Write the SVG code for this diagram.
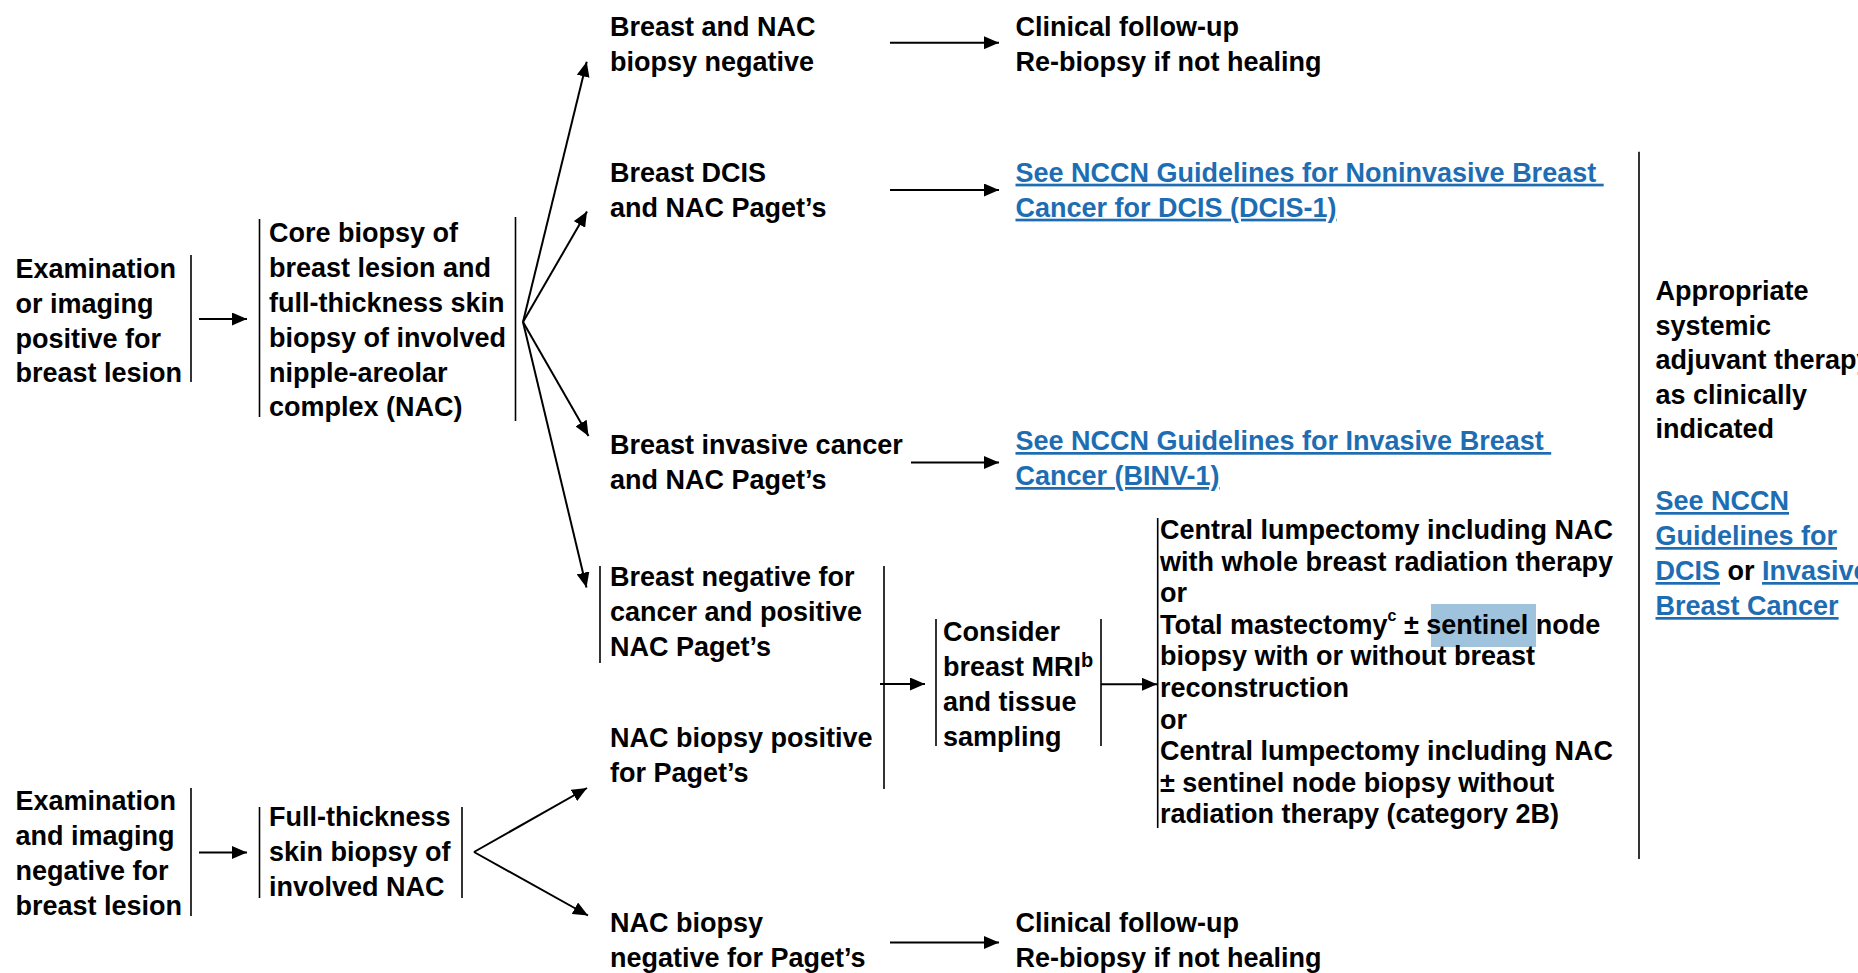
<svg xmlns="http://www.w3.org/2000/svg" width="1858" height="973" viewBox="0 0 1858 973">
<style>
.t{font-family:"Liberation Sans",Arial,Helvetica,sans-serif;font-weight:bold;font-size:27px;fill:#000}
.lk{fill:#1e6db3;text-decoration:underline}
.v{stroke:#000;stroke-width:1.6;fill:none}
.c{stroke:#000;stroke-width:2;fill:none;marker-end:url(#ah)}
.hl{fill:#9fc3dc}
</style>
<defs>
<marker id="ah" markerUnits="userSpaceOnUse" markerWidth="16" markerHeight="13" refX="15" refY="6.5" orient="auto">
<path d="M0,0 L15,6.5 L0,13 z" fill="#000"/>
</marker>
</defs>
<rect width="1858" height="973" fill="#fff"/>

<g id="connectors">
<line class="c" x1="199" y1="319" x2="247" y2="319"/>
<line class="c" x1="523" y1="322" x2="586.7" y2="61.7"/>
<line class="c" x1="523" y1="322" x2="587" y2="211.5"/>
<line class="c" x1="523" y1="322" x2="588.5" y2="436"/>
<line class="c" x1="523" y1="322" x2="586.5" y2="587.5"/>
<line class="c" x1="890" y1="42.7" x2="999" y2="42.7"/>
<line class="c" x1="890" y1="190" x2="999" y2="190"/>
<line class="c" x1="911" y1="462.5" x2="999" y2="462.5"/>
<line class="c" x1="880" y1="684" x2="925" y2="684"/>
<line class="c" x1="1101" y1="684.3" x2="1157" y2="684.3"/>
<line class="c" x1="199" y1="852.5" x2="247" y2="852.5"/>
<line class="c" x1="474" y1="852" x2="587" y2="788"/>
<line class="c" x1="474" y1="852" x2="588" y2="915.5"/>
<line class="c" x1="890" y1="942.5" x2="999" y2="942.5"/>
</g>

<g id="n_a1">
<line class="v" x1="191" y1="255" x2="191" y2="382"/>
<text class="t"><tspan x="15.5" y="278">Examination</tspan><tspan x="15.5" y="313">or imaging</tspan><tspan x="15.5" y="348">positive for</tspan><tspan x="15.5" y="382">breast lesion</tspan></text>
</g>

<g id="n_b1">
<line class="v" x1="259.5" y1="219" x2="259.5" y2="417"/>
<line class="v" x1="515.5" y1="217" x2="515.5" y2="421"/>
<text class="t"><tspan x="269" y="242">Core biopsy of</tspan><tspan x="269" y="277">breast lesion and</tspan><tspan x="269" y="311.5">full-thickness skin</tspan><tspan x="269" y="346.5">biopsy of involved</tspan><tspan x="269" y="381.5">nipple-areolar</tspan><tspan x="269" y="415.5">complex (NAC)</tspan></text>
</g>

<g id="n_c1">
<text class="t"><tspan x="610" y="36">Breast and NAC</tspan><tspan x="610" y="71">biopsy negative</tspan></text>
</g>
<g id="n_d1">
<text class="t"><tspan x="1015.5" y="36">Clinical follow-up</tspan><tspan x="1015.5" y="71">Re-biopsy if not healing</tspan></text>
</g>

<g id="n_c2">
<text class="t"><tspan x="610" y="181.7">Breast DCIS</tspan><tspan x="610" y="216.7">and NAC Paget’s</tspan></text>
</g>
<g id="n_d2">
<text class="t lk"><tspan x="1015.5" y="181.7">See NCCN Guidelines for Noninvasive Breast&#160;</tspan><tspan x="1015.5" y="216.7">Cancer for DCIS (DCIS-1)</tspan></text>
</g>

<g id="n_c3">
<text class="t"><tspan x="610" y="454">Breast invasive cancer</tspan><tspan x="610" y="489">and NAC Paget’s</tspan></text>
</g>
<g id="n_d3">
<text class="t lk"><tspan x="1015.5" y="450">See NCCN Guidelines for Invasive Breast&#160;</tspan><tspan x="1015.5" y="485">Cancer (BINV-1)</tspan></text>
</g>

<g id="n_c4">
<line class="v" x1="600" y1="566" x2="600" y2="663"/>
<text class="t"><tspan x="610" y="586">Breast negative for</tspan><tspan x="610" y="621">cancer and positive</tspan><tspan x="610" y="656">NAC Paget’s</tspan></text>
</g>
<g id="n_c5">
<text class="t"><tspan x="610" y="746.5">NAC biopsy positive</tspan><tspan x="610" y="781.5">for Paget’s</tspan></text>
</g>
<g id="bracket_c4_c5">
<line class="v" x1="884" y1="566" x2="884" y2="789"/>
</g>

<g id="n_e">
<line class="v" x1="936" y1="619" x2="936" y2="746"/>
<line class="v" x1="1101" y1="619" x2="1101" y2="746"/>
<text class="t"><tspan x="943" y="641">Consider</tspan><tspan x="943" y="676">breast MRI<tspan font-size="20" dy="-9">b</tspan></tspan><tspan x="943" y="711">and tissue</tspan><tspan x="943" y="746">sampling</tspan></text>
</g>

<g id="n_f">
<line class="v" x1="1157.7" y1="518" x2="1157.7" y2="828"/>
<rect class="hl" x="1431" y="604" width="105" height="43"/>
<text class="t"><tspan x="1160" y="539">Central lumpectomy including NAC</tspan><tspan x="1160" y="570.6">with whole breast radiation therapy</tspan><tspan x="1160" y="602.2">or</tspan><tspan x="1160" y="633.8">Total mastectomy<tspan font-size="16" dy="-13">c</tspan><tspan dy="13"> ± sentinel node</tspan></tspan><tspan x="1160" y="665.4">biopsy with or without breast</tspan><tspan x="1160" y="697">reconstruction</tspan><tspan x="1160" y="728.6">or</tspan><tspan x="1160" y="760.2">Central lumpectomy including NAC</tspan><tspan x="1160" y="791.8">± sentinel node biopsy without</tspan><tspan x="1160" y="823.4">radiation therapy (category 2B)</tspan></text>
</g>

<g id="n_g">
<line class="v" x1="1639" y1="151.7" x2="1639" y2="859"/>
<text class="t"><tspan x="1655.5" y="300">Appropriate</tspan><tspan x="1655.5" y="334.6">systemic</tspan><tspan x="1655.5" y="369.2">adjuvant therapy</tspan><tspan x="1655.5" y="403.8">as clinically</tspan><tspan x="1655.5" y="438.4">indicated</tspan><tspan x="1655.5" y="510" class="lk">See NCCN</tspan><tspan x="1655.5" y="545" class="lk">Guidelines for</tspan><tspan x="1655.5" y="580"><tspan class="lk">DCIS</tspan> or <tspan class="lk">Invasive</tspan></tspan><tspan x="1655.5" y="615" class="lk">Breast Cancer</tspan></text>
</g>

<g id="n_a2">
<line class="v" x1="191" y1="788" x2="191" y2="916"/>
<text class="t"><tspan x="15.5" y="810">Examination</tspan><tspan x="15.5" y="845">and imaging</tspan><tspan x="15.5" y="880">negative for</tspan><tspan x="15.5" y="914.5">breast lesion</tspan></text>
</g>

<g id="n_b2">
<line class="v" x1="259.5" y1="807" x2="259.5" y2="898"/>
<line class="v" x1="462" y1="807" x2="462" y2="898"/>
<text class="t"><tspan x="269" y="826">Full-thickness</tspan><tspan x="269" y="861">skin biopsy of</tspan><tspan x="269" y="896">involved NAC</tspan></text>
</g>

<g id="n_c6">
<text class="t"><tspan x="610" y="931.7">NAC biopsy</tspan><tspan x="610" y="966.7">negative for Paget’s</tspan></text>
</g>
<g id="n_d6">
<text class="t"><tspan x="1015.5" y="931.7">Clinical follow-up</tspan><tspan x="1015.5" y="966.7">Re-biopsy if not healing</tspan></text>
</g>
</svg>
